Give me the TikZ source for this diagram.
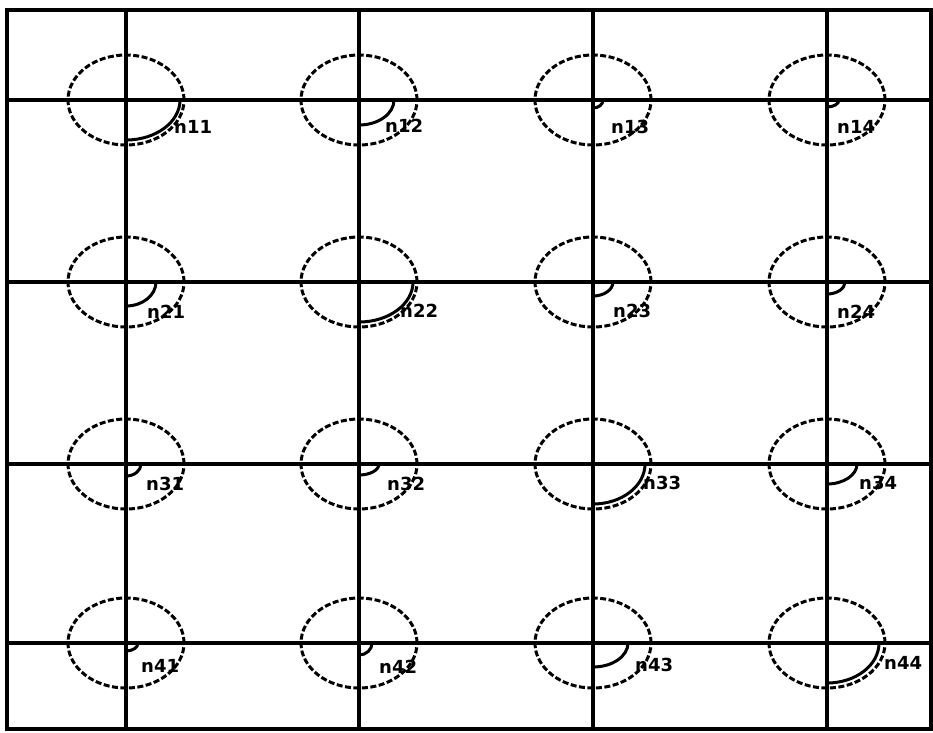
\documentclass[tikz,border=0pt]{standalone}
\usepackage{fontspec}
\newfontfamily\lblfont{DejaVu Sans}
\usetikzlibrary{shapes.geometric}
\begin{document}
\begin{tikzpicture}[x=1pt,y=-1pt,
  cell/.style={draw, ellipse, dash pattern=on 6pt off 2.5pt, line width=3pt,
    minimum width=116pt, minimum height=90pt, inner sep=0pt},
  grid/.style={line width=3.2pt},
  hook/.style={line width=3pt},
  lbl/.style={anchor=west, inner sep=0pt, font=\lblfont\bfseries\fontsize{18}{18}\selectfont}]
\useasboundingbox (0,0) rectangle (933,732);
% frame and grid
\coordinate (tl) at (7,10);
\coordinate (br) at (931,729);
\draw[grid] (tl) rectangle (br);
\foreach \x in {126,359,593,827} \draw[grid] (\x,10) -- (\x,729);
\foreach \y in {100,282,464,643} \draw[grid] (7,\y) -- (931,\y);
% ellipses
\node[cell] (n11) at (126,100) {};
\node[cell] (n12) at (359,100) {};
\node[cell] (n13) at (593,100) {};
\node[cell] (n14) at (827,100) {};
\node[cell] (n21) at (126,282) {};
\node[cell] (n22) at (359,282) {};
\node[cell] (n23) at (593,282) {};
\node[cell] (n24) at (827,282) {};
\node[cell] (n31) at (126,464) {};
\node[cell] (n32) at (359,464) {};
\node[cell] (n33) at (593,464) {};
\node[cell] (n34) at (827,464) {};
\node[cell] (n41) at (126,643) {};
\node[cell] (n42) at (359,643) {};
\node[cell] (n43) at (593,643) {};
\node[cell] (n44) at (827,643) {};
% hooks (lower-right quarter arcs)
\foreach \n/\rx/\ry in {n11/54/40, n12/35/25, n13/10/8, n14/12/7,
  n21/30/24, n22/54/40, n23/20/14, n24/18/12,
  n31/15/12, n32/20/11, n33/52/40, n34/30/20,
  n41/12/8, n42/13/12, n43/35/24, n44/52/40}
  \draw[hook] ([shift={(\rx,0)}]\n.center) arc[start angle=0, end angle=90, x radius=\rx, y radius=\ry];
% labels
\node[lbl] (l11) at ([shift={(48,27)}]n11.center) {n11};
\node[lbl] (l12) at ([shift={(26,26)}]n12.center) {n12};
\node[lbl] (l13) at ([shift={(18,27)}]n13.center) {n13};
\node[lbl] (l14) at ([shift={(10,27)}]n14.center) {n14};
\node[lbl] (l21) at ([shift={(21,30)}]n21.center) {n21};
\node[lbl] (l22) at ([shift={(41,29)}]n22.center) {n22};
\node[lbl] (l23) at ([shift={(20,29)}]n23.center) {n23};
\node[lbl] (l24) at ([shift={(10,30)}]n24.center) {n24};
\node[lbl] (l31) at ([shift={(20,20)}]n31.center) {n31};
\node[lbl] (l32) at ([shift={(28,20)}]n32.center) {n32};
\node[lbl] (l33) at ([shift={(50,19)}]n33.center) {n33};
\node[lbl] (l34) at ([shift={(32,19)}]n34.center) {n34};
\node[lbl] (l41) at ([shift={(15,23)}]n41.center) {n41};
\node[lbl] (l42) at ([shift={(20,24)}]n42.center) {n42};
\node[lbl] (l43) at ([shift={(42,22)}]n43.center) {n43};
\node[lbl] (l44) at ([shift={(57,20)}]n44.center) {n44};
\end{tikzpicture}
\end{document}
